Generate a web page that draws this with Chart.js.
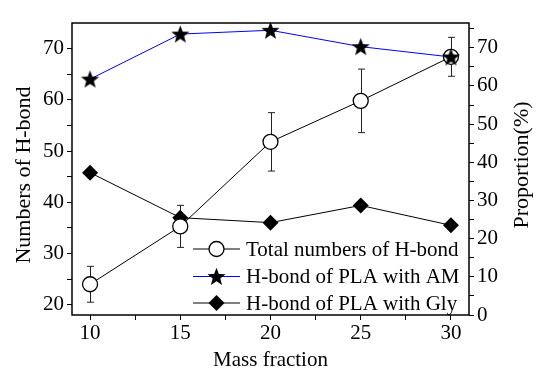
<!DOCTYPE html>
<html>
<head>
<meta charset="utf-8">
<script src="https://cdn.jsdelivr.net/npm/chart.js@4.4.1/dist/chart.umd.min.js"></script>
<style>
  html, body { margin: 0; padding: 0; background: #fff; }
  #wrap { width: 550px; height: 381px; }
</style>
</head>
<body>
<div id="wrap"><canvas id="chart" width="550" height="381"></canvas></div>
<script>
// data
const massFraction = [10, 15, 20, 25, 30];
const totalHbond = [24.0, 35.3, 51.8, 59.8, 68.4];
const totalErr = [3.5, 4.1, 5.7, 6.2, 3.8];
const amProportion = [61.8, 73.6, 74.6, 70.3, 67.6];
const glyProportion = [37.3, 25.5, 24.2, 28.7, 23.5];

// axis ticks
const xTicks = [10, 12.5, 15, 17.5, 20, 22.5, 25, 27.5, 30];
const xLabels = [10, 15, 20, 25, 30];
const leftTicks = [20, 25, 30, 35, 40, 45, 50, 55, 60, 65, 70];
const leftLabels = [20, 30, 40, 50, 60, 70];
const rightTicks = [0, 5, 10, 15, 20, 25, 30, 35, 40, 45, 50, 55, 60, 65, 70, 75];
const rightLabels = [0, 10, 20, 30, 40, 50, 60, 70];

const seriesNames = ['Total numbers of H-bond', 'H-bond of PLA with AM', 'H-bond of PLA with Gly'];

const FONT = "'Liberation Serif', 'Times New Roman', serif";

// filled five point star for the AM series
function makeStar(r) {
  const size = Math.ceil(r * 2 + 2);
  const c = document.createElement('canvas');
  c.width = size; c.height = size;
  const g = c.getContext('2d');
  const cx = size / 2, cy = size / 2 + 0.8;
  g.beginPath();
  for (let i = 0; i < 10; i++) {
    const rad = i % 2 === 0 ? r : r * 0.42;
    const a = -Math.PI / 2 + i * Math.PI / 5;
    const px = cx + rad * Math.cos(a), py = cy + rad * Math.sin(a);
    if (i === 0) g.moveTo(px, py); else g.lineTo(px, py);
  }
  g.closePath();
  g.fillStyle = '#000';
  g.fill();
  return c;
}
const starImg = makeStar(9.5);

const pts = arr => massFraction.map((x, i) => ({ x: x, y: arr[i] }));

const fixTicks = list => axis => { axis.ticks = list.map(v => ({ value: v })); };

// error bars on the total series
const errorBars = {
  id: 'errorBars',
  beforeDatasetsDraw(chart) {
    const ctx = chart.ctx;
    const xs = chart.scales.x, ys = chart.scales.y;
    ctx.save();
    ctx.strokeStyle = '#222';
    ctx.lineWidth = 1;
    massFraction.forEach((m, i) => {
      const px = Math.round(xs.getPixelForValue(m)) + 0.5;
      const top = ys.getPixelForValue(totalHbond[i] + totalErr[i]);
      const bot = ys.getPixelForValue(totalHbond[i] - totalErr[i]);
      ctx.beginPath();
      ctx.moveTo(px, top); ctx.lineTo(px, bot);
      ctx.moveTo(px - 3.5, top); ctx.lineTo(px + 3.5, top);
      ctx.moveTo(px - 3.5, bot); ctx.lineTo(px + 3.5, bot);
      ctx.stroke();
    });
    ctx.restore();
  }
};

// frame, axis titles and legend
const decorations = {
  id: 'decorations',
  afterDraw(chart) {
    const ctx = chart.ctx;
    const a = chart.chartArea;
    ctx.save();
    ctx.strokeStyle = '#000';
    ctx.lineWidth = 1.5;
    ctx.strokeRect(a.left, a.top, a.right - a.left, a.bottom - a.top);

    ctx.fillStyle = '#000';
    ctx.textAlign = 'center';
    ctx.textBaseline = 'middle';
    ctx.font = '21px ' + FONT;
    ctx.fillText('Mass fraction', (a.left + a.right) / 2, 360);

    ctx.font = '22px ' + FONT;
    ctx.save();
    ctx.translate(24, 175);
    ctx.rotate(-Math.PI / 2);
    ctx.fillText('Numbers of H-bond', 0, 0);
    ctx.restore();
    ctx.save();
    ctx.translate(522, 165);
    ctx.rotate(-Math.PI / 2);
    ctx.fillText('Proportion(%)', 0, 0);
    ctx.restore();

    // legend
    const rows = [249, 276.5, 303];
    const lineCols = ['#000', '#0000ff', '#000'];
    ctx.font = '21px ' + FONT;
    ctx.textAlign = 'left';
    rows.forEach((y, i) => {
      ctx.strokeStyle = lineCols[i];
      ctx.lineWidth = 1;
      ctx.beginPath();
      ctx.moveTo(193, y); ctx.lineTo(240, y);
      ctx.stroke();
      ctx.strokeStyle = '#000';
      ctx.lineWidth = 1.3;
      if (i === 0) {
        ctx.fillStyle = '#fff';
        Chart.helpers.drawPoint(ctx, { pointStyle: 'circle', radius: 7.5, borderWidth: 1.3, rotation: 0 }, 216.5, y);
      } else if (i === 1) {
        Chart.helpers.drawPoint(ctx, { pointStyle: starImg, radius: 9, borderWidth: 0, rotation: 0 }, 216.5, y);
      } else {
        ctx.fillStyle = '#000';
        Chart.helpers.drawPoint(ctx, { pointStyle: 'rectRot', radius: 8, borderWidth: 0, rotation: 0 }, 216.5, y);
      }
      ctx.fillStyle = '#000';
      ctx.fillText(seriesNames[i], 246, y + 1);
    });
    ctx.restore();
  }
};

new Chart(document.getElementById('chart'), {
  type: 'line',
  data: {
    datasets: [
      {
        label: seriesNames[1],
        data: pts(amProportion),
        yAxisID: 'y1',
        borderColor: '#0000ff',
        borderWidth: 1,
        pointStyle: starImg,
        pointRadius: 9,
        order: 0
      },
      {
        label: seriesNames[0],
        data: pts(totalHbond),
        yAxisID: 'y',
        borderColor: '#000',
        borderWidth: 1,
        pointStyle: 'circle',
        pointRadius: 7.5,
        pointBackgroundColor: '#fff',
        pointBorderColor: '#000',
        pointBorderWidth: 1.3,
        order: 1
      },
      {
        label: seriesNames[2],
        data: pts(glyProportion),
        yAxisID: 'y1',
        borderColor: '#000',
        borderWidth: 1,
        pointStyle: 'rectRot',
        pointRadius: 8,
        pointBackgroundColor: '#000',
        pointBorderColor: '#000',
        pointBorderWidth: 0,
        order: 2
      }
    ]
  },
  options: {
    responsive: false,
    animation: false,
    layout: { padding: { top: 23, left: 0, right: 0, bottom: 0 } },
    plugins: {
      legend: { display: false },
      tooltip: { enabled: false }
    },
    scales: {
      x: {
        type: 'linear',
        min: 9, max: 31,
        afterBuildTicks: fixTicks(xTicks),
        afterFit: s => { s.height = 66; },
        border: { display: false },
        grid: { drawOnChartArea: false, tickLength: 5, tickColor: '#000', tickWidth: 1 },
        ticks: {
          autoSkip: false, maxRotation: 0, padding: 1,
          color: '#000', font: { family: FONT, size: 21 },
          callback: v => xLabels.includes(v) ? String(v) : ''
        }
      },
      y: {
        position: 'left',
        min: 18, max: 75,
        afterBuildTicks: fixTicks(leftTicks),
        afterFit: s => { s.width = 72; },
        border: { display: false },
        grid: { drawOnChartArea: false, tickLength: 5, tickColor: '#000', tickWidth: 1 },
        ticks: {
          autoSkip: false, padding: 3,
          color: '#000', font: { family: FONT, size: 21 },
          callback: v => leftLabels.includes(v) ? String(v) : ''
        }
      },
      y1: {
        position: 'right',
        min: 0, max: 76.5,
        afterBuildTicks: fixTicks(rightTicks),
        afterFit: s => { s.width = 81; },
        border: { display: false },
        grid: { drawOnChartArea: false, tickLength: 5, tickColor: '#000', tickWidth: 1 },
        ticks: {
          autoSkip: false, padding: 3,
          color: '#000', font: { family: FONT, size: 21 },
          callback: v => rightLabels.includes(v) ? String(v) : ''
        }
      }
    }
  },
  plugins: [errorBars, decorations]
});
</script>
</body>
</html>
